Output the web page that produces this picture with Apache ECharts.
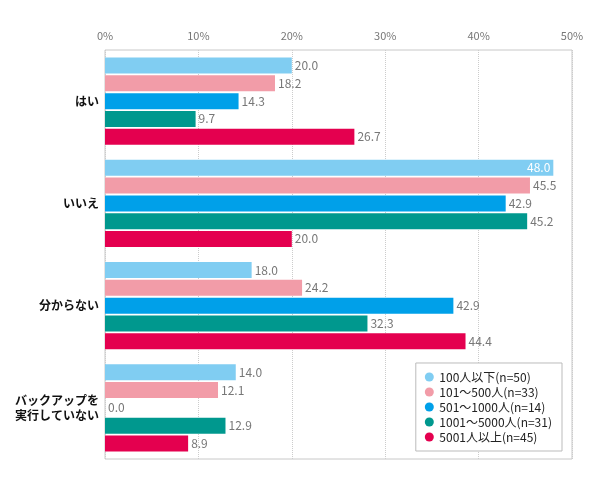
<!DOCTYPE html>
<html>
<head>
<meta charset="utf-8">
<script src="https://cdn.jsdelivr.net/npm/echarts@6/dist/echarts.min.js"></script>
<style>
  html, body { margin: 0; padding: 0; background: #fff; }
  #chart { width: 590px; height: 492px; }
</style>
</head>
<body>
<div id="chart"></div>
<script>
// カテゴリ
var categories = ['はい', 'いいえ', '分からない', 'バックアップを\n実行していない'];
var seriesNames = ['100人以下(n=50)', '101～500人(n=33)', '501～1000人(n=14)', '1001～5000人(n=31)', '5001人以上(n=45)'];
var colors = ['#80cdf2', '#f29ca8', '#00a0e9', '#00988e', '#e4004f'];

// 棒の長さ（図から読み取り。「分からない」の棒は表示値より短く描かれている）
var s100 = [20.0, 48.0, 15.7, 14.0];
var s500 = [18.2, 45.5, 21.1, 12.1];
var s1000 = [14.3, 42.9, 37.3, 0.0];
var s5000 = [9.7, 45.2, 28.1, 12.9];
var s5001 = [26.7, 20.0, 38.6, 8.9];
var seriesData = [s100, s500, s1000, s5000, s5001];

// 表示ラベル
var l100 = ['20.0', '48.0', '18.0', '14.0'];
var l500 = ['18.2', '45.5', '24.2', '12.1'];
var l1000 = ['14.3', '42.9', '42.9', '0.0'];
var l5000 = ['9.7', '45.2', '32.3', '12.9'];
var l5001 = ['26.7', '20.0', '44.4', '8.9'];
var labelData = [l100, l500, l1000, l5000, l5001];

var chart = echarts.init(document.getElementById('chart'));

var font = '"Noto Sans CJK JP", "Noto Sans", sans-serif';

var option = {
    textStyle: { fontFamily: font },
    legend: {
        orient: 'vertical',
        right: 28,
        bottom: 41,
        icon: 'circle',
        itemWidth: 10,
        itemHeight: 9,
        itemGap: 3,
        padding: [8, 10, 8, 9],
        borderColor: '#bbb',
        borderWidth: 1,
        backgroundColor: '#fff',
        textStyle: { fontSize: 12, color: '#222', fontFamily: font },
        data: seriesNames
    },
    grid: {
        left: 105,
        right: 18,
        top: 50,
        bottom: 33,
        show: true,
        borderColor: '#c8c8c8',
        borderWidth: 1
    },
    xAxis: {
        type: 'value',
        position: 'top',
        min: 0,
        max: 50,
        interval: 10,
        axisLine: { show: false },
        axisTick: { show: false },
        axisLabel: {
            formatter: '{value}%',
            color: '#777',
            fontSize: 11,
            margin: 9
        },
        splitLine: {
            lineStyle: { type: 'dotted', color: '#ccc' }
        }
    },
    yAxis: {
        type: 'category',
        inverse: true,
        data: categories,
        axisLine: { show: false },
        axisTick: { show: false },
        axisLabel: {
            color: '#111',
            fontWeight: 'bold',
            fontSize: 12,
            margin: 6,
            lineHeight: 15,
            align: 'right'
        }
    },
    series: seriesNames.map(function (name, i) {
        return {
            name: name,
            type: 'bar',
            barWidth: 16,
            barGap: '11%',
            itemStyle: { color: colors[i] },
            data: seriesData[i].map(function (v, j) {
                var d = { value: v, text: labelData[i][j] };
                if (v >= 47) {
                    d.label = { position: 'insideRight', color: '#fff', distance: 3 };
                }
                return d;
            }),
            label: {
                show: true,
                position: 'right',
                distance: 3,
                color: '#777',
                fontSize: 12,
                formatter: function (p) { return p.data.text; }
            }
        };
    })
};

chart.setOption(option);
</script>
</body>
</html>
